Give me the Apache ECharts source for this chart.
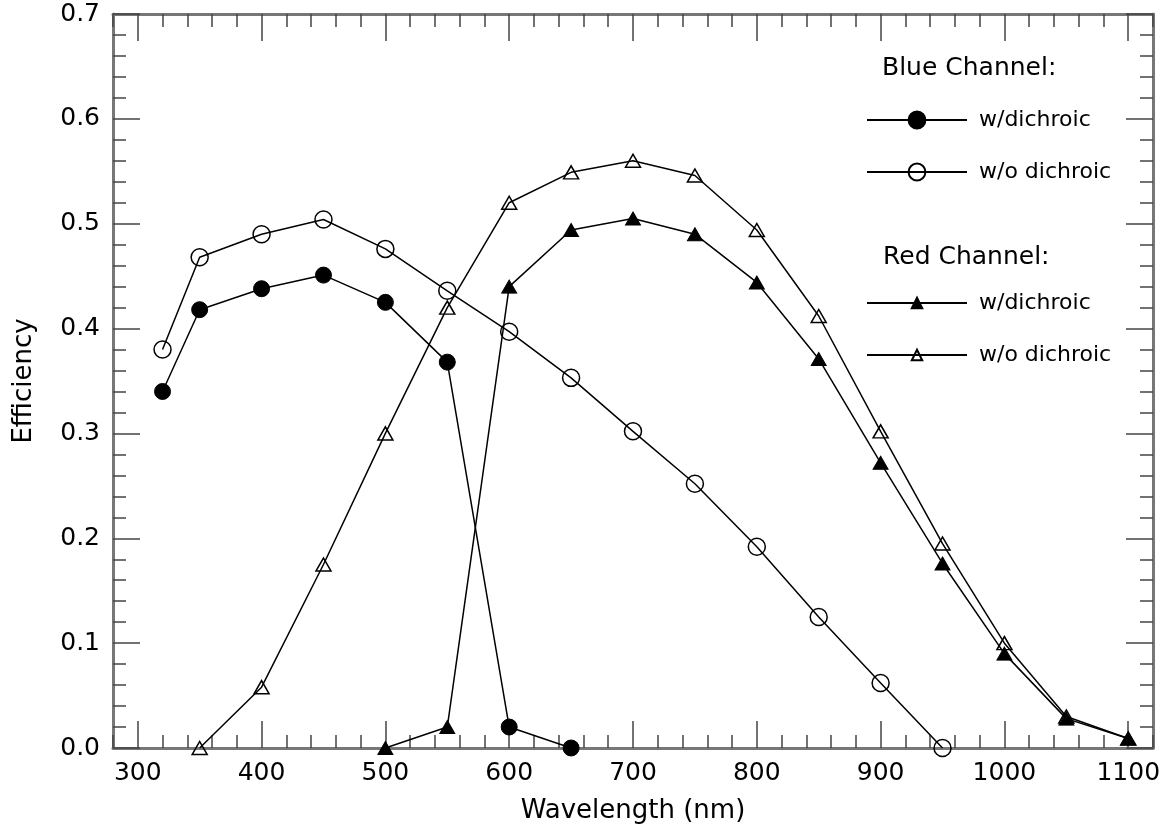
<!DOCTYPE html>
<html>
<head>
<meta charset="utf-8">
<title>Efficiency</title>
<script src="https://cdn.jsdelivr.net/npm/echarts@6/dist/echarts.min.js"></script>
<style>
  html, body { margin: 0; padding: 0; background: #fff; }
  #main { width: 1166px; height: 831px; }
</style>
</head>
<body>
<div id="main"></div>
<script>
// 数据
const wlBlueWith = [320, 350, 400, 450, 500, 550, 600, 650]
const effBlueWith = [0.34, 0.418, 0.438, 0.451, 0.425, 0.368, 0.02, 0.0]

const wlBlueWithout = [320, 350, 400, 450, 500, 550, 600, 650, 700, 750, 800, 850, 900, 950]
const effBlueWithout = [0.38, 0.468, 0.49, 0.504, 0.476, 0.436, 0.397, 0.353, 0.302, 0.252, 0.192, 0.125, 0.062, 0.0]

const wlRedWith = [500, 550, 600, 650, 700, 750, 800, 850, 900, 950, 1000, 1050, 1100]
const effRedWith = [0.0, 0.02, 0.44, 0.494, 0.505, 0.49, 0.444, 0.371, 0.272, 0.176, 0.09, 0.028, 0.009]

const wlRedWithout = [350, 400, 450, 500, 550, 600, 650, 700, 750, 800, 850, 900, 950, 1000, 1050, 1100]
const effRedWithout = [0.0, 0.058, 0.175, 0.30, 0.42, 0.52, 0.549, 0.56, 0.546, 0.494, 0.412, 0.302, 0.195, 0.10, 0.03, 0.009]

const xTicks = [300, 400, 500, 600, 700, 800, 900, 1000, 1100]
const yTicks = [0, 0.1, 0.2, 0.3, 0.4, 0.5, 0.6, 0.7]

const FONT = '"DejaVu Sans", sans-serif'
const zip = (xs, ys) => xs.map((x, i) => [x, ys[i]])

// 坐标轴: 主刻度 + 次刻度, 四边都有
function xAxisOf(pos, major, withLabel) {
  return {
    type: 'value', min: 280, max: 1120, position: pos,
    interval: major ? undefined : 20,
    axisLine: { show: major, onZero: false, lineStyle: { color: '#777', width: 3 } },
    axisTick: major
      ? { inside: true, length: 27, customValues: xTicks, lineStyle: { color: '#444', width: 1.5 } }
      : { inside: true, length: 13, lineStyle: { color: '#444', width: 1.5 } },
    axisLabel: withLabel
      ? { customValues: xTicks, formatter: v => String(v), fontSize: 25, fontFamily: FONT, color: '#000', margin: 13 }
      : { show: false },
    splitLine: { show: false },
    name: withLabel ? 'Wavelength (nm)' : '',
    nameLocation: 'middle', nameGap: 50,
    nameTextStyle: { fontSize: 26, fontFamily: FONT, color: '#000' }
  }
}
function yAxisOf(pos, major, withLabel) {
  return {
    type: 'value', min: 0, max: 0.7, position: pos,
    interval: major ? undefined : 0.02,
    axisLine: { show: major, onZero: false, lineStyle: { color: '#777', width: 3 } },
    axisTick: major
      ? { inside: true, length: 27, customValues: yTicks, lineStyle: { color: '#444', width: 1.5 } }
      : { inside: true, length: 13, lineStyle: { color: '#444', width: 1.5 } },
    axisLabel: withLabel
      ? { customValues: yTicks, formatter: v => v.toFixed(1), fontSize: 25, fontFamily: FONT, color: '#000', margin: 13 }
      : { show: false },
    splitLine: { show: false },
    name: withLabel ? 'Efficiency' : '',
    nameLocation: 'middle', nameGap: 76, nameRotate: 90,
    nameTextStyle: { fontSize: 26, fontFamily: FONT, color: '#000' }
  }
}

function lineSeries(name, data, symbol, size, filled) {
  return {
    name: name, type: 'line', data: data,
    xAxisIndex: 0, yAxisIndex: 0,
    symbol: symbol, symbolSize: size, showAllSymbol: true,
    lineStyle: { color: '#000', width: 1.5 },
    itemStyle: filled
      ? { color: '#000', borderColor: '#000', borderWidth: 1 }
      : { color: 'rgba(0,0,0,0)', borderColor: '#000', borderWidth: 1.5 },
    emphasis: { disabled: true },
    animation: false
  }
}

const legendText = name => name.replace(/^(Blue|Red) /, '')

const myChart = echarts.init(document.getElementById('main'))
const option = {
  backgroundColor: '#fff',
  animation: false,
  grid: { left: 113, right: 13, top: 14, bottom: 83 },
  xAxis: [
    xAxisOf('bottom', true, true),
    xAxisOf('bottom', false, false),
    xAxisOf('top', true, false),
    xAxisOf('top', false, false)
  ],
  yAxis: [
    yAxisOf('left', true, true),
    yAxisOf('left', false, false),
    yAxisOf('right', true, false),
    yAxisOf('right', false, false)
  ],
  legend: [
    {
      data: ['Blue w/dichroic', 'Blue w/o dichroic'],
      orient: 'vertical', left: 866, top: 107, padding: 0,
      itemWidth: 100, itemHeight: 21, itemGap: 26,
      selectedMode: false, formatter: legendText,
      textStyle: { fontSize: 22, fontFamily: FONT, color: '#000', lineHeight: 26, padding: [0, 0, 0, 7] }
    },
    {
      data: ['Red w/dichroic', 'Red w/o dichroic'],
      orient: 'vertical', left: 866, top: 290, padding: 0,
      itemWidth: 100, itemHeight: 13, itemGap: 26,
      selectedMode: false, formatter: legendText,
      textStyle: { fontSize: 22, fontFamily: FONT, color: '#000', lineHeight: 26, padding: [0, 0, 0, 7] }
    }
  ],
  graphic: [
    { type: 'text', x: 882, y: 68, style: { text: 'Blue Channel:', font: '25px ' + FONT, fill: '#000', verticalAlign: 'middle' } },
    { type: 'text', x: 883, y: 257, style: { text: 'Red Channel:', font: '25px ' + FONT, fill: '#000', verticalAlign: 'middle' } }
  ],
  series: [
    lineSeries('Blue w/dichroic', zip(wlBlueWith, effBlueWith), 'circle', 16, true),
    lineSeries('Blue w/o dichroic', zip(wlBlueWithout, effBlueWithout), 'circle', 17, false),
    lineSeries('Red w/dichroic', zip(wlRedWith, effRedWith), 'triangle', [15, 13], true),
    lineSeries('Red w/o dichroic', zip(wlRedWithout, effRedWithout), 'triangle', [15, 13], false)
  ]
}
myChart.setOption(option)
</script>
</body>
</html>
